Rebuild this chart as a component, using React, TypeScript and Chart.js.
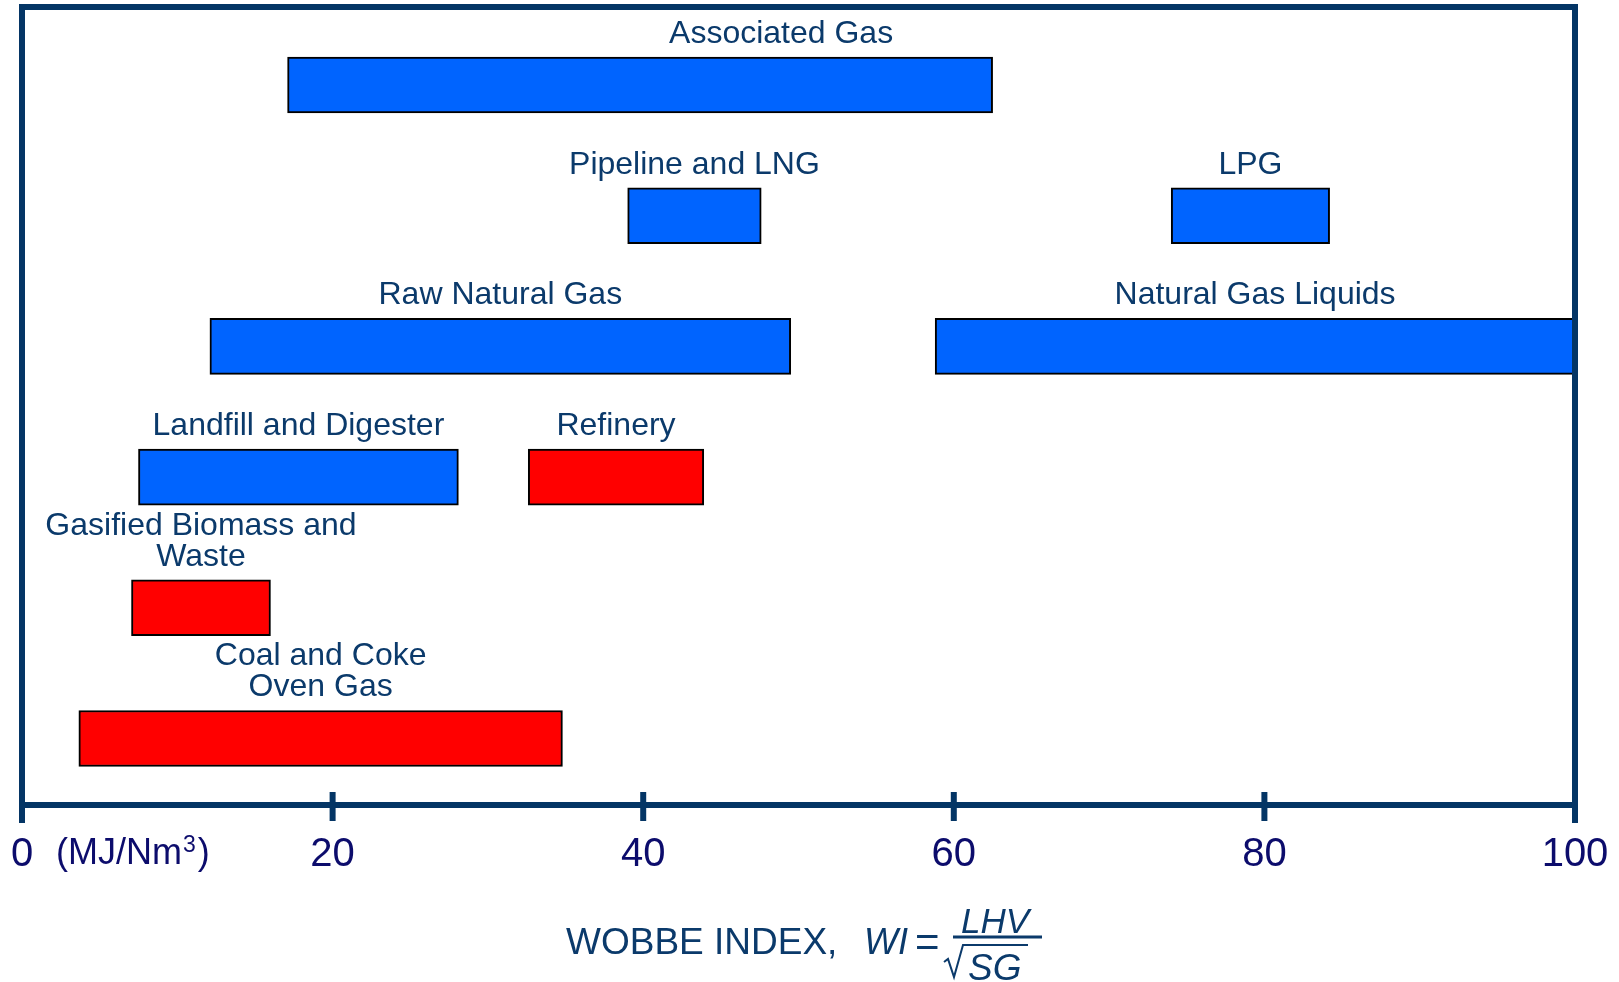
import { useEffect, useRef } from "react";
import { Chart, registerables } from "chart.js";

Chart.register(...registerables);

// Gas sources and their Wobbe index ranges (MJ/Nm³)
const sourceNames = [
  "Associated Gas",
  "Pipeline and LNG",
  "LPG",
  "Raw Natural Gas",
  "Natural Gas Liquids",
  "Landfill and Digester",
  "Refinery",
  "Gasified Biomass and\nWaste",
  "Coal and Coke\nOven Gas",
];
const rowOf = [0, 1, 1, 2, 2, 3, 3, 4, 5];
const wobbeLow = [17.1, 39.0, 74.0, 12.1, 58.8, 7.5, 32.6, 7.05, 3.66];
const wobbeHigh = [62.5, 47.6, 84.2, 49.5, 100, 28.1, 43.9, 16.0, 34.8];
const manufactured = [false, false, false, false, false, false, true, true, true];
const xTickValues = [0, 20, 40, 60, 80, 100];

const FONT = "'Liberation Sans', Arial, Helvetica, sans-serif";
const NAVY = "#0c0c6c";
const LABEL_BLUE = "#0b3a6b";
const FRAME = "#043565";
const BAR_THICK = 56;

// Horizontal nudge (px) for labels that sit off their bar's centre
const labelNudge: Record<string, number> = { "Associated Gas": 141 };

const barsFor = (isManufactured: boolean) =>
  sourceNames
    .map((_, i) => i)
    .filter((i) => manufactured[i] === isManufactured)
    .map((i) => ({ x: [wobbeLow[i], wobbeHigh[i]], y: rowOf[i] }));

const framePlugin = {
  id: "wobbeFrame",
  afterDatasetsDraw(chart: any) {
    const { ctx, chartArea, scales } = chart;
    const xs = scales.x;
    const ys = scales.y;
    const { left, right, top, bottom } = chartArea;
    ctx.save();

    // bar captions
    ctx.fillStyle = LABEL_BLUE;
    ctx.font = `32px ${FONT}`;
    ctx.textAlign = "center";
    ctx.textBaseline = "alphabetic";
    sourceNames.forEach((name, i) => {
      const cx = xs.getPixelForValue((wobbeLow[i] + wobbeHigh[i]) / 2) + (labelNudge[name] || 0);
      const barTop = ys.getPixelForValue(rowOf[i]) - BAR_THICK / 2;
      const lines = name.split("\n");
      lines.forEach((ln, k) => {
        const y = barTop - 14 - (lines.length - 1 - k) * 31;
        ctx.fillText(ln, cx, y);
      });
    });

    // frame and axis
    ctx.strokeStyle = FRAME;
    ctx.lineWidth = 6;
    ctx.lineCap = "butt";
    ctx.beginPath();
    ctx.moveTo(left, bottom + 18);
    ctx.lineTo(left, top);
    ctx.lineTo(right, top);
    ctx.lineTo(right, bottom + 18);
    ctx.stroke();
    ctx.beginPath();
    ctx.moveTo(left, bottom);
    ctx.lineTo(right, bottom);
    ctx.stroke();
    xTickValues.slice(1, -1).forEach((v) => {
      const px = xs.getPixelForValue(v);
      ctx.beginPath();
      ctx.moveTo(px, bottom - 13);
      ctx.lineTo(px, bottom + 16);
      ctx.stroke();
    });

    // tick labels
    ctx.fillStyle = NAVY;
    ctx.font = `40px ${FONT}`;
    ctx.textAlign = "center";
    xTickValues.forEach((v) => {
      ctx.fillText(String(v), xs.getPixelForValue(v), 866);
    });

    // unit next to zero
    ctx.textAlign = "left";
    ctx.font = `36px ${FONT}`;
    const unitA = "(MJ/Nm";
    ctx.fillText(unitA, 56, 864);
    let ux = 56 + ctx.measureText(unitA).width + 1;
    ctx.font = `23px ${FONT}`;
    ctx.fillText("3", ux, 852);
    ux += ctx.measureText("3").width + 2;
    ctx.font = `36px ${FONT}`;
    ctx.fillText(")", ux, 864);

    // axis title with the Wobbe formula
    ctx.fillStyle = LABEL_BLUE;
    ctx.font = `37px ${FONT}`;
    ctx.fillText("WOBBE INDEX,", 566, 954);
    ctx.font = `italic 36px ${FONT}`;
    ctx.fillText("WI", 864, 954);
    ctx.font = `42px ${FONT}`;
    ctx.fillText("=", 915, 956);
    ctx.font = `italic 35px ${FONT}`;
    ctx.textAlign = "center";
    ctx.fillText("LHV", 995, 933);
    ctx.textAlign = "left";
    ctx.font = `italic 37px ${FONT}`;
    ctx.fillText("SG", 968, 980);
    ctx.strokeStyle = LABEL_BLUE;
    ctx.lineWidth = 3;
    ctx.beginPath();
    ctx.moveTo(953, 937);
    ctx.lineTo(1042, 937);
    ctx.stroke();
    ctx.lineWidth = 2;
    ctx.beginPath();
    ctx.moveTo(944, 962);
    ctx.lineTo(948, 959);
    ctx.lineTo(954, 977);
    ctx.lineTo(963, 945);
    ctx.lineTo(1028, 945);
    ctx.stroke();

    ctx.restore();
  },
};

export default function App() {
  const canvasRef = useRef<HTMLCanvasElement | null>(null);

  useEffect(() => {
    const canvas = canvasRef.current;
    if (!canvas) return;
    const chart = new Chart(canvas, {
      type: "bar",
      data: {
        datasets: [
          {
            label: "Natural gas",
            data: barsFor(false) as any,
            backgroundColor: "#0064ff",
            borderColor: "#000000",
            borderWidth: 2,
            borderSkipped: false,
            barThickness: BAR_THICK,
            grouped: false,
          },
          {
            label: "Manufactured gas",
            data: barsFor(true) as any,
            backgroundColor: "#ff0000",
            borderColor: "#000000",
            borderWidth: 2,
            borderSkipped: false,
            barThickness: BAR_THICK,
            grouped: false,
          },
        ],
      },
      options: {
        indexAxis: "y",
        responsive: false,
        animation: false,
        events: [],
        layout: { padding: { left: 22, right: 44, top: 7, bottom: 0 } },
        plugins: { legend: { display: false }, tooltip: { enabled: false } },
        scales: {
          x: {
            type: "linear",
            min: 0,
            max: 100,
            grid: { display: false, drawTicks: false },
            border: { display: false },
            ticks: { display: false },
            afterFit: (scale: any) => {
              scale.height = 177;
            },
          },
          y: {
            type: "linear",
            display: false,
            offset: false,
            reverse: true,
            min: -0.597,
            max: 5.509,
          },
        },
      },
      plugins: [framePlugin],
    } as any);
    return () => chart.destroy();
  }, []);

  return (
    <div style={{ position: "absolute", left: 0, top: 0, width: 1619, height: 982, background: "#fff" }}>
      <canvas ref={canvasRef} width={1619} height={982} style={{ display: "block" }} />
    </div>
  );
}
